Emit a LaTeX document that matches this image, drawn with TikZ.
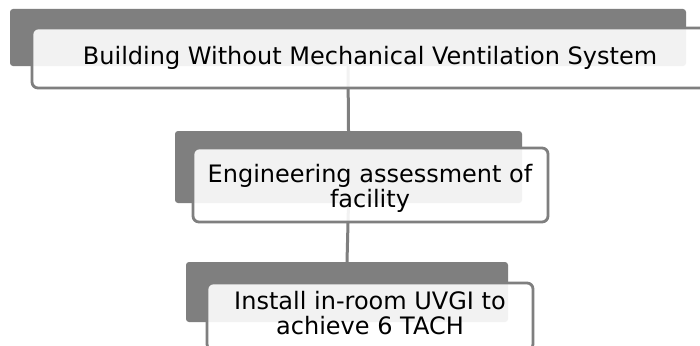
\documentclass[tikz,border=0pt]{standalone}
\usepackage{fontspec}
\setmainfont{DejaVu Sans}
\definecolor{boxgray}{HTML}{7F7F7F}
\tikzset{
  backbox/.style={fill=boxgray, draw=none, rounded corners=3pt, inner sep=0pt},
  frontbox/.style={draw=boxgray, line width=2.8pt, rounded corners=6pt, fill=white, fill opacity=0.9, inner sep=0pt},
  label/.style={align=center, inner sep=0pt, font=\fontsize{24}{25}\selectfont, text=black},
  link/.style={draw=boxgray, line width=3pt}
}
\begin{document}
\begin{tikzpicture}[x=1pt,y=-1pt]
\useasboundingbox (0,0) rectangle (700,345);
\clip (0,0) rectangle (700,345);
\fill[white] (0,0) rectangle (700,345);
% back boxes
\node[backbox, minimum width=676pt, minimum height=57pt] (b1) at (348,37.5) {};
\node[backbox, minimum width=347pt, minimum height=72pt] (b2) at (348.5,167) {};
\node[backbox, minimum width=322pt, minimum height=60pt] (b3) at (347,292) {};
% connectors
\draw[link] (b1.south) -- (b2.north);
\draw[link] (b2.south) -- (b3.north);
% front boxes
\node[frontbox, minimum width=678pt, minimum height=60pt] (f1) at (371,58) {};
\node[frontbox, minimum width=355pt, minimum height=74pt] (f2) at (370.5,185) {};
\node[frontbox, minimum width=326pt, minimum height=67pt] (f3) at (370,316.5) {};
% texts
\node[label, anchor=base] (t1) at (370,64.5) {Building Without Mechanical Ventilation System};
\node[label] (t2) at (370,188) {Engineering assessment of\\facility};
\node[label] (t3) at (370,313) {Install in-room UVGI to\\achieve 6 TACH};
\end{tikzpicture}
\end{document}
